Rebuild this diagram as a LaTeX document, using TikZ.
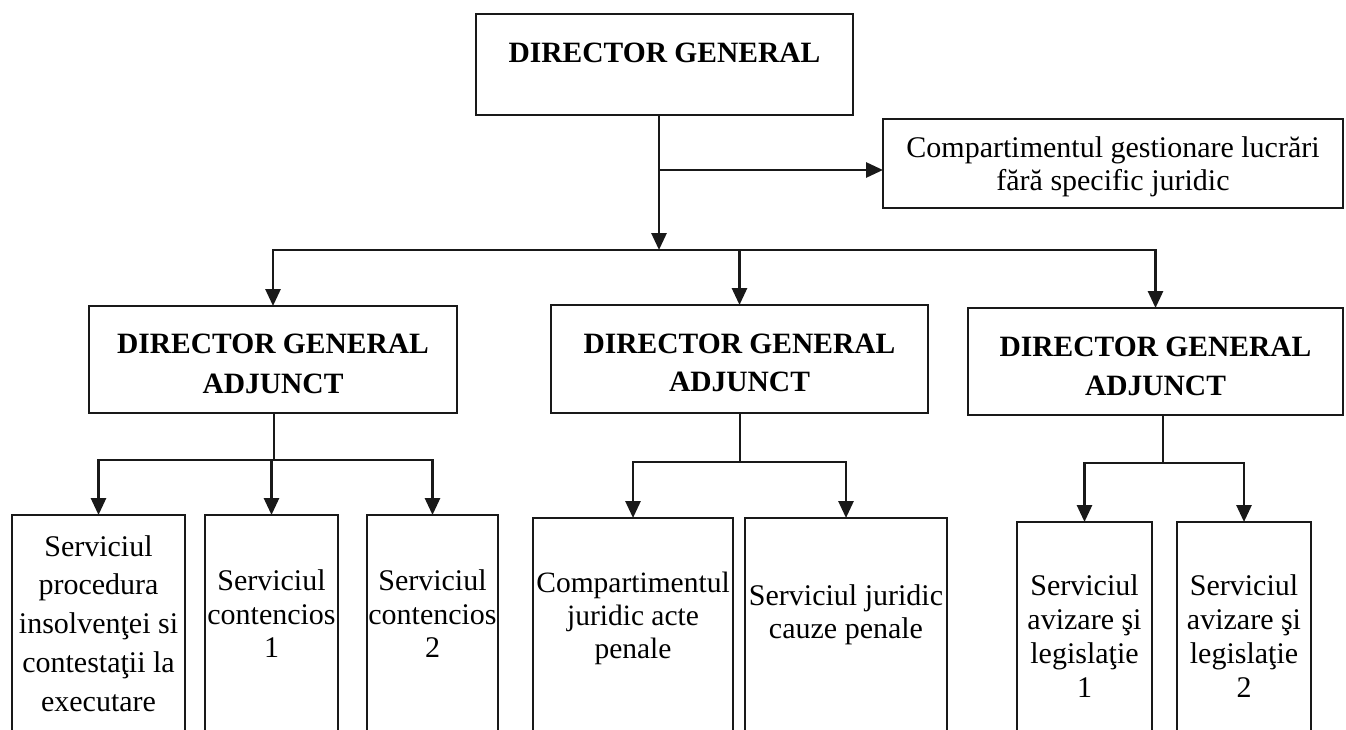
\documentclass[tikz,border=0pt]{standalone}
\usepackage{fontspec}
\setmainfont{Liberation Serif}
\usetikzlibrary{arrows.meta}
\definecolor{linec}{RGB}{25,25,25}
\newcommand\mlines[3]{{\fontsize{#1}{#2}\selectfont\begin{tabular}{@{}c@{}}#3\end{tabular}}}
\begin{document}
\begin{tikzpicture}[x=1pt,y=-1pt,
  box/.style={draw=linec, line width=2.8pt, inner sep=0pt, outer sep=0pt, anchor=north, text=black},
  ln/.style={draw=linec, line width=2.8pt},
  arr/.style={ln, -{Triangle[length=17pt,width=15pt]}}]
\useasboundingbox (0,0) rectangle (1346,730);
\fill[white] (0,0) rectangle (1346,730);
\clip (0,0) rectangle (1346,730);

% top level
\node[box, minimum width=377pt, text height=49pt, text depth=52pt,
      font={\bfseries\fontsize{29.5}{35}\selectfont}] (dg) at (664.5,14) {DIRECTOR GENERAL};
\node[box, minimum width=460pt, text height=54.5pt, text depth=34.5pt] (gl) at (1113,119)
  {\mlines{30}{33}{Compartimentul gestionare lucrări\\fără specific juridic}};

% second level
\node[box, minimum width=368pt, text height=66pt, text depth=41pt, font=\bfseries] (mL) at (273,306)
  {\mlines{29.5}{40}{DIRECTOR GENERAL\\ADJUNCT}};
\node[box, minimum width=377pt, text height=66pt, text depth=42pt, font=\bfseries] (mC) at (739.5,305)
  {\mlines{29.5}{38}{DIRECTOR GENERAL\\ADJUNCT}};
\node[box, minimum width=375pt, text height=66.5pt, text depth=40.5pt, font=\bfseries] (mR) at (1155.5,308)
  {\mlines{29.5}{39}{DIRECTOR GENERAL\\ADJUNCT}};

% third level
\node[box, minimum width=173pt, text height=117pt, text depth=108pt] (b1) at (98.5,515)
  {\mlines{30}{38.75}{Serviciul\\procedura\\insolvenţei si\\contestaţii la\\executare}};
\node[box, minimum width=133pt, text height=109pt, text depth=116pt] (b2) at (271.5,515)
  {\mlines{30}{33.5}{Serviciul\\contencios\\1}};
\node[box, minimum width=131pt, text height=109pt, text depth=116pt] (b3) at (432.5,515)
  {\mlines{30}{33.5}{Serviciul\\contencios\\2}};
\node[box, minimum width=200pt, text height=107pt, text depth=115pt] (b4) at (633,518)
  {\mlines{29.5}{33}{Compartimentul\\juridic acte\\penale}};
\node[box, minimum width=202pt, text height=103.5pt, text depth=118.5pt] (b5) at (846,518)
  {\mlines{30}{33}{Serviciul juridic\\cauze penale}};
\node[box, minimum width=135pt, text height=124pt, text depth=94pt] (b6) at (1084.5,522)
  {\mlines{30}{34}{Serviciul\\avizare şi\\legislaţie\\1}};
\node[box, minimum width=134pt, text height=124pt, text depth=94pt] (b7) at (1244,522)
  {\mlines{30}{34}{Serviciul\\avizare şi\\legislaţie\\2}};

% connectors, top level
\coordinate (j0) at (659,250);
\coordinate (jr) at (659,170);
\draw[arr] (dg.south -| j0) -- (j0);
\draw[arr] (jr) -- (jr -| gl.west);
\draw[arr] (j0) -| (mL.north);
\draw[arr] (j0) -| (mR.north);
\draw[arr] (mC.north |- j0) -- (mC.north);

% connectors, left group
\coordinate (kL) at (274,460);
\draw[ln] (mL.south -| kL) -- (kL);
\draw[arr] (kL) -| (b1.north);
\draw[arr] (kL) -| (b3.north);
\draw[arr] (b2.north |- kL) -- (b2.north);

% connectors, middle group
\coordinate (kC) at (740,462);
\draw[ln] (mC.south -| kC) -- (kC);
\draw[arr] (kC) -| (b4.north);
\draw[arr] (kC) -| (b5.north);

% connectors, right group
\coordinate (kR) at (1163,463);
\draw[ln] (mR.south -| kR) -- (kR);
\draw[arr] (kR) -| (b6.north);
\draw[arr] (kR) -| (b7.north);
\end{tikzpicture}
\end{document}
